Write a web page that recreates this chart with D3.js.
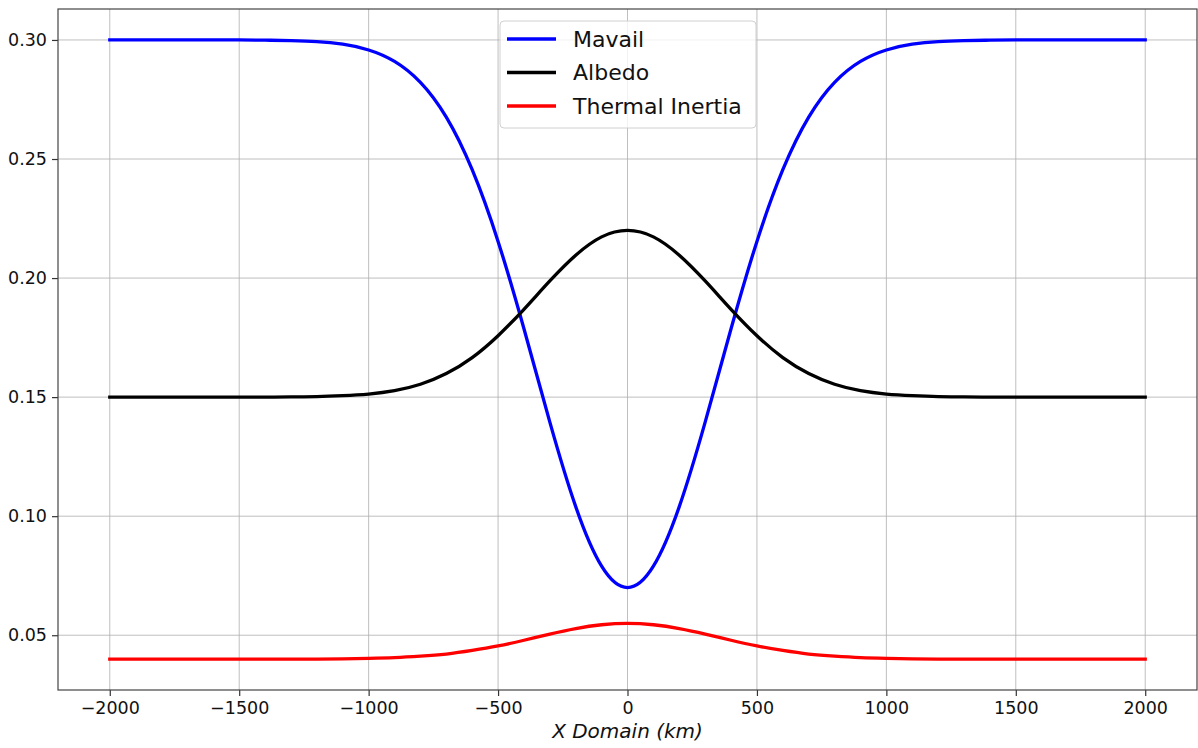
<!DOCTYPE html>
<html><head><meta charset="utf-8">
<script src="https://cdn.jsdelivr.net/npm/d3@7"></script>
<style>body{margin:0;background:#fff;} svg{display:block;font-family:"DejaVu Sans",sans-serif;}</style>
</head><body>
<svg id="chart" width="1198" height="748"></svg>
<script>
// x positions (km)
const xValues = [-2000,-1900,-1800,-1700,-1600,-1500,-1400,-1300,-1200,-1100,-1000,-900,-800,-700,-600,-500,-400,-300,-200,-100,0,100,200,300,400,500,600,700,800,900,1000,1100,1200,1300,1400,1500,1600,1700,1800,1900,2000];
// values
const mavail = [0.300,0.300,0.300,0.300,0.300,0.300,0.2999,0.2997,0.2993,0.2982,0.2958,0.2910,0.2822,0.2676,0.2455,0.2154,0.1787,0.1395,0.1040,0.0790,0.0700,0.0790,0.1040,0.1395,0.1787,0.2154,0.2455,0.2676,0.2822,0.2910,0.2958,0.2982,0.2993,0.2997,0.2999,0.300,0.300,0.300,0.300,0.300,0.300];
const albedo = [0.150,0.150,0.150,0.150,0.150,0.150,0.150,0.1501,0.1502,0.1506,0.1513,0.1527,0.1554,0.1599,0.1666,0.1758,0.1869,0.1988,0.2096,0.2173,0.2200,0.2173,0.2096,0.1988,0.1869,0.1758,0.1666,0.1599,0.1554,0.1527,0.1513,0.1506,0.1502,0.1501,0.150,0.150,0.150,0.150,0.150,0.150,0.150];
const thermal = [0.040,0.040,0.040,0.040,0.040,0.040,0.040,0.040,0.040,0.0401,0.0403,0.0406,0.0412,0.0421,0.0436,0.0455,0.0479,0.0505,0.0528,0.0544,0.0550,0.0544,0.0528,0.0505,0.0479,0.0455,0.0436,0.0421,0.0412,0.0406,0.0403,0.0401,0.040,0.040,0.040,0.040,0.040,0.040,0.040,0.040,0.040];
const seriesNames = ["Mavail","Albedo","Thermal Inertia"];
const seriesColors = ["#0000ff","#000000","#ff0000"];
const xTicks = [-2000,-1500,-1000,-500,0,500,1000,1500,2000];
const yTicks = [0.05,0.10,0.15,0.20,0.25,0.30];
const xLabel = "X Domain (km)";

const svg = d3.select("#chart");
const L = 58, R = 1197, T = 9, B = 690;
const x = d3.scaleLinear().domain([-2200, 2200]).range([L, R]);
const y = d3.scaleLinear().domain([0.027, 0.313]).range([B, T]);

// grid
const g = svg.append("g");
g.selectAll(".vg").data(xTicks).join("line")
  .attr("x1", d => x(d)).attr("x2", d => x(d)).attr("y1", T).attr("y2", B)
  .attr("stroke", "#b0b0b0").attr("stroke-width", 1).attr("opacity", 0.8);
g.selectAll(".hg").data(yTicks).join("line")
  .attr("y1", d => y(d)).attr("y2", d => y(d)).attr("x1", L).attr("x2", R)
  .attr("stroke", "#b0b0b0").attr("stroke-width", 1).attr("opacity", 0.8);

// lines
const allSeries = [mavail, albedo, thermal];
const line = d3.line().x((d, i) => x(xValues[i])).y(d => y(d)).curve(d3.curveNatural);
allSeries.forEach((s, k) => {
  svg.append("path").datum(s).attr("d", line)
    .attr("fill", "none").attr("stroke", seriesColors[k]).attr("stroke-width", 3.3)
    .attr("stroke-linecap", "square");
});

// axes
const xAxis = d3.axisBottom(x).tickValues(xTicks).tickSize(6).tickPadding(6)
  .tickFormat(d => d < 0 ? "\u2212" + Math.abs(d) : String(d));
const yAxis = d3.axisLeft(y).tickValues(yTicks).tickSize(6).tickPadding(5)
  .tickFormat(d3.format(".2f"));
const gx = svg.append("g").attr("transform", `translate(0,${B})`).call(xAxis);
const gy = svg.append("g").attr("transform", `translate(${L},0)`).call(yAxis);
[gx, gy].forEach(a => {
  a.select(".domain").remove();
  a.selectAll(".tick line").attr("stroke", "#333").attr("stroke-width", 1.2);
  a.selectAll(".tick text").attr("fill", "#111").style("font-size", "17.5px")
    .style("font-family", "'DejaVu Sans', sans-serif");
});
svg.append("rect").attr("x", L).attr("y", T).attr("width", R - L).attr("height", B - T)
  .attr("fill", "none").attr("stroke", "#444").attr("stroke-width", 1.2);

// x label
svg.append("text").attr("x", x(0)).attr("y", 738).attr("text-anchor", "middle")
  .style("font-size", "20px").style("font-style", "italic").attr("fill", "#111").text(xLabel);

// legend
const lg = svg.append("g");
lg.append("rect").attr("x", 500).attr("y", 21).attr("width", 256).attr("height", 107)
  .attr("rx", 4).attr("fill", "#fff").attr("fill-opacity", 0.8).attr("stroke", "#d0d0d0");
seriesNames.forEach((n, i) => {
  const yy = 39 + i * 33.5;
  lg.append("line").attr("x1", 507).attr("x2", 556).attr("y1", yy).attr("y2", yy)
    .attr("stroke", seriesColors[i]).attr("stroke-width", 3.3);
  lg.append("text").attr("x", 573).attr("y", yy).attr("dy", "0.36em")
    .style("font-size", "22px").attr("fill", "#111").text(n);
});
</script>
</body></html>
